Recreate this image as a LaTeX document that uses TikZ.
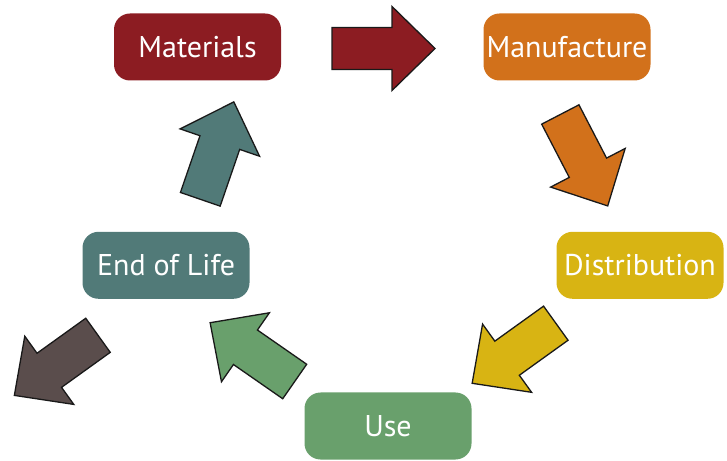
\documentclass[tikz,border=0pt]{standalone}
\usepackage{fontspec}
\setmainfont{PT Sans}
\definecolor{matred}{HTML}{8C1C22}
\definecolor{manorange}{HTML}{D2711B}
\definecolor{distyellow}{HTML}{D8B413}
\definecolor{lifeteal}{HTML}{517A78}
\definecolor{usegreen}{HTML}{69A06C}
\definecolor{wastebrown}{HTML}{5A4D4C}
\tikzset{
  stagebox/.style={rounded corners=16pt, minimum width=167pt, minimum height=67pt,
    inner sep=0pt, text=white, font=\fontsize{30}{32}\selectfont},
  arrowline/.style={draw=black!90, line width=1.3pt, line join=miter},
  pics/cyclearrow/.style={code={
    \path[arrowline, fill=#1] (0,-21) -- (60,-21) -- (60,-42) -- (103,0)
      -- (60,42) -- (60,21) -- (0,21) -- cycle;}}
}
\begin{document}
\begin{tikzpicture}[x=1pt, y=1pt]
\useasboundingbox (0,0) rectangle (727,460);

% stages of the life cycle
\node[stagebox, fill=matred]     (materials)    at (197.5,413)  {Materials};
\node[stagebox, fill=manorange]  (manufacture)  at (567,413)    {Manufacture};
\node[stagebox, fill=distyellow] (distribution) at (640,194.7)  {Distribution};
\node[stagebox, fill=usegreen]   (use)          at (388,34)     {Use};
\node[stagebox, fill=lifeteal]   (endoflife)    at (166,194.7)  {End of Life};

% block arrows between the stages
\pic[rotate=0]      at (332,411.5)   {cyclearrow=matred};
\pic[rotate=-62.6]  at (560.3,345.5) {cyclearrow=manorange};
\pic[rotate=215.7]  at (555.8,136.8) {cyclearrow=distyellow};
\pic[rotate=145.2]  at (294.7,78.5)  {cyclearrow=usegreen};
\pic[rotate=71]     at (200.3,260.7) {cyclearrow=lifeteal};
\pic[rotate=215.7]  at (98,124.7)    {cyclearrow=wastebrown};
\end{tikzpicture}
\end{document}
